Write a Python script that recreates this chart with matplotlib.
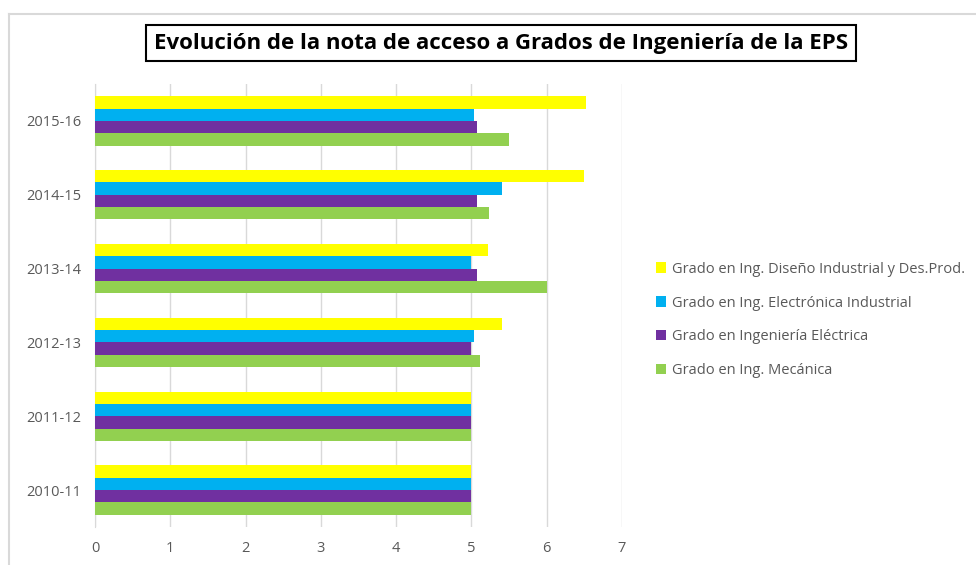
import matplotlib.pyplot as plt
import numpy as np

# Data
cursos = ['2010-11', '2011-12', '2012-13', '2013-14', '2014-15', '2015-16']
series = [
    'Grado en Ing. Diseño Industrial y Des.Prod.',
    'Grado en Ing. Electrónica Industrial',
    'Grado en Ingeniería Eléctrica',
    'Grado en Ing. Mecánica',
]
diseno = [5.0, 5.0, 5.40, 5.215, 6.49, 6.52]
electronica = [5.0, 5.0, 5.03, 5.0, 5.41, 5.04]
electrica = [5.0, 5.0, 5.0, 5.07, 5.08, 5.08]
mecanica = [5.0, 5.0, 5.11, 6.01, 5.23, 5.50]
colores = ['#FFFF00', '#00B0F0', '#7030A0', '#92D050']

plt.rcParams['font.family'] = ['Open Sans', 'DejaVu Sans']

fig = plt.figure(figsize=(9.76, 5.65), dpi=100)
ax = fig.add_axes([95 / 976, 1 - 527 / 565, (622 - 95) / 976, (527 - 84) / 565])

y = np.arange(len(cursos))
h = 0.167
valores = [diseno, electronica, electrica, mecanica]
# yellow on top of each group, green at the bottom
offsets = [1.5 * h, 0.5 * h, -0.5 * h, -1.5 * h]
for vals, off, col, name in zip(valores, offsets, colores, series):
    ax.barh(y + off, vals, height=h, color=col, label=name, zorder=3)

ax.set_xlim(0, 7)
ax.set_ylim(-0.5, 5.5)
ax.set_xticks(range(8))
ax.set_yticks(y)
ax.set_yticklabels(cursos)
ax.grid(axis='x', color='#D9D9D9', linewidth=1, zorder=0)
for s in ['top', 'right', 'bottom']:
    ax.spines[s].set_visible(False)
ax.spines['left'].set_color('#D9D9D9')
ax.tick_params(length=0, labelsize=10.5, colors='#595959')
ax.tick_params(axis='x', pad=10)
ax.tick_params(axis='y', pad=10)

handles, labels = ax.get_legend_handles_labels()
leg = fig.legend(handles, labels, loc='center left', bbox_to_anchor=(643 / 976, 1 - 320 / 565),
                 frameon=False, fontsize=10.5, handlelength=0.7, handleheight=0.7,
                 handletextpad=0.4, labelspacing=1.3)
for t in leg.get_texts():
    t.set_color('#595959')

fig.text(501 / 976, 1 - 43 / 565, 'Evolución de la nota de acceso a Grados de Ingeniería de la EPS',
         ha='center', va='center', fontsize=16, fontweight='bold', color='black',
         bbox=dict(boxstyle='square,pad=0.35', facecolor='white', edgecolor='black', linewidth=1.5))

# outer chart border (cropped at the right and bottom)
fig.add_artist(plt.Line2D([9 / 976, 9 / 976], [0, 1 - 14 / 565], color='#D9D9D9', linewidth=1.5,
                          transform=fig.transFigure))
fig.add_artist(plt.Line2D([9 / 976, 1], [1 - 14 / 565, 1 - 14 / 565], color='#D9D9D9', linewidth=1.5,
                          transform=fig.transFigure))

fig.savefig('out.png', dpi=100)
